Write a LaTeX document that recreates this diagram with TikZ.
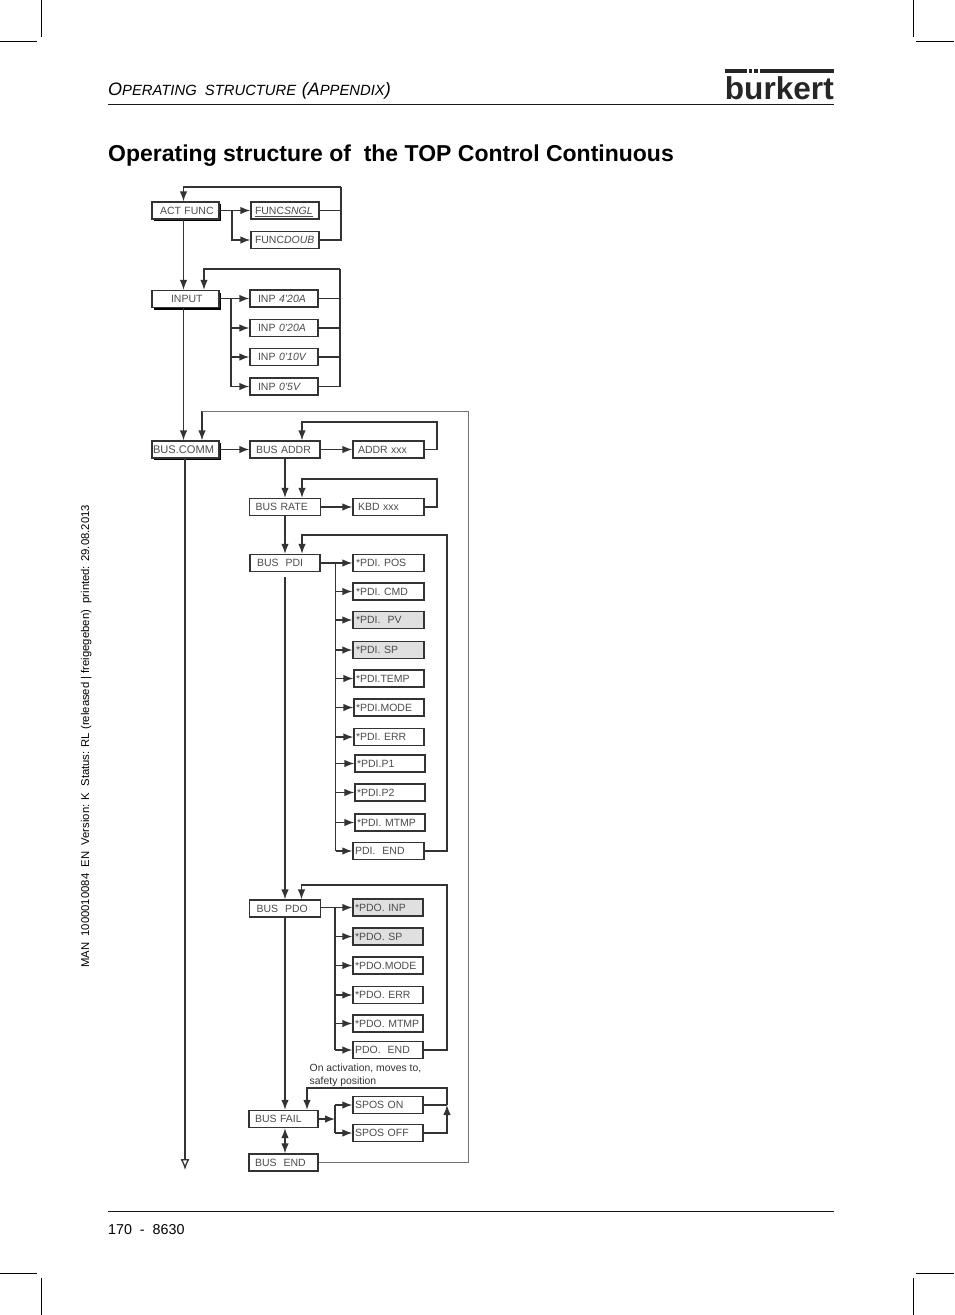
\documentclass[tikz,border=0pt]{standalone}
\usepackage{fontspec}
\setmainfont{Liberation Sans}
\usepackage{xcolor}
\usepackage{tikz}
\usetikzlibrary{arrows.meta, shadows, calc}
\definecolor{inkDark}{gray}{0.2}
\definecolor{inkText}{gray}{0.3}
\tikzset{
    menuBox/.style={draw=inkDark, line width=1.3pt, fill=white, text=inkText, inner xsep=0pt, inner ysep=0pt, text width=70pt, minimum height=17pt, text height=7.4pt, text depth=0pt, align=left, font=\fontsize{10.5}{10.5}\selectfont, execute at begin node=\hspace*{#1}},
    menuBox/.default=2pt,
    topBox/.style={menuBox=#1, text width=67pt, general shadow={fill=black, shadow xshift=1.5pt, shadow yshift=-2pt}},
    topBox/.default=8pt,
    greyBox/.style={fill=black!12},
    flowLine/.style={draw=inkDark, line width=1.3pt},
    flowEdge/.style={flowLine, -{Latex[length=10pt, width=7.5pt]}},
    flowBoth/.style={flowLine, {Latex[length=10pt, width=7.5pt]}-{Latex[length=10pt, width=7.5pt]}},
    flowEnd/.style={flowLine, -{Latex[open, length=11pt, width=9pt, fill=white]}},
    outerLine/.style={draw=black!55, line width=0.9pt},
    cropMark/.style={draw=black, line width=0.7pt},
    pageRule/.style={draw=black!90, line width=0.9pt},
    logoBar/.style={fill=black!85, draw=none},
}
\newcommand{\chanBranch}[2]{
    \draw[flowEdge] (#1 |- #2.west) -- (#2.west);
}
\newcommand{\chanReturn}[2]{
    \draw[flowLine] (#1.east) -- (#1.east -| #2);
}
\newcommand{\smallCap}[2]{{\fontsize{18}{18}\selectfont #1}{\fontsize{14.8}{14.8}\selectfont #2}}

\begin{document}
\begin{tikzpicture}[x=1pt, y=-1pt]
    \useasboundingbox (0,0) rectangle (954,1315);

    % crop marks
    \coordinate (cropA) at (41,0);
    \coordinate (cropB) at (41,37);
    \coordinate (cropC) at (0,41);
    \coordinate (cropD) at (37,41);
    \coordinate (cropE) at (913,0);
    \coordinate (cropF) at (913,37);
    \coordinate (cropG) at (916,41);
    \coordinate (cropH) at (954,41);
    \coordinate (cropI) at (41,1278);
    \coordinate (cropJ) at (41,1315);
    \coordinate (cropK) at (0,1273);
    \coordinate (cropL) at (37,1273);
    \coordinate (cropM) at (913,1278);
    \coordinate (cropN) at (913,1315);
    \coordinate (cropO) at (916,1273);
    \coordinate (cropP) at (954,1273);
    \draw[cropMark] (cropA) -- (cropB) (cropC) -- (cropD) (cropE) -- (cropF) (cropG) -- (cropH);
    \draw[cropMark] (cropI) -- (cropJ) (cropK) -- (cropL) (cropM) -- (cropN) (cropO) -- (cropP);

    % page head
    \node[anchor=base west, inner sep=0pt, font=\itshape] (headText) at (108,95) {\smallCap{O}{PERATING \ STRUCTURE} \ \smallCap{(A}{PPENDIX}\smallCap{)}{}};
    \node[anchor=base east, inner sep=0pt, font=\bfseries\fontsize{31.6}{31.6}\selectfont, text=black!85] (logoText) at (834,99) {burkert};
    \fill[logoBar] (725,69) rectangle (747,73);
    \fill[logoBar] (748.5,69) rectangle (752,73);
    \fill[logoBar] (754,69) rectangle (758,73);
    \fill[logoBar] (760,69) rectangle (833.5,73);
    \coordinate (headL) at (108,104.5);
    \coordinate (headR) at (833.5,104.5);
    \draw[pageRule] (headL) -- (headR);
    \node[anchor=base west, inner sep=0pt, font=\bfseries\fontsize{23}{23}\selectfont] (titleText) at (108,161) {Operating structure of \ the TOP Control Continuous};

    % page foot
    \coordinate (footL) at (108,1211.5);
    \coordinate (footR) at (833.5,1211.5);
    \draw[pageRule] (footL) -- (footR);
    \node[anchor=base west, inner sep=0pt, font=\fontsize{14.3}{14.3}\selectfont] (pageText) at (108,1234) {170 \ - \ 8630};
    \node[anchor=base west, inner sep=0pt, rotate=90, font=\fontsize{11.3}{11.3}\selectfont] (sideText) at (89,968) {MAN \ 1000010084 \ EN \ Version: K \ Status: RL (released | freigegeben) \ printed: 29.08.2013};

    % act func
    \node[topBox] (actFunc) at (185.5,210.5) {ACT FUNC};
    \node[menuBox=4pt, text width=68pt] (funcSngl) at (285,210.5) {\underline{FUNC\textit{SNGL}}};
    \node[menuBox=4pt, text width=68pt] (funcDoub) at (285,240) {FUNC\textit{DOUB}};
    \coordinate (actBranch) at (232,210.5);
    \coordinate (actRight) at (341,187);
    \coordinate (actLeft) at (183.5,187);
    \draw[flowLine] (actFunc.east) -- (actBranch);
    \chanBranch{actBranch}{funcSngl}
    \draw[flowEdge] (actBranch) |- (funcDoub.west);
    \chanReturn{funcSngl}{actRight}
    \draw[flowLine] (funcDoub.east) -| (actRight);
    \draw[flowEdge] (actRight) -- (actLeft) -- (actLeft |- actFunc.north);

    % input
    \node[topBox=19pt] (input) at (185.5,299) {INPUT};
    \node[menuBox=8pt, text width=68pt] (inpA) at (284,298.5) {INP \textit{4'20A}};
    \node[menuBox=8pt, text width=68pt] (inpB) at (284,328) {INP \textit{0'20A}};
    \node[menuBox=8pt, text width=68pt] (inpC) at (284,357) {INP \textit{0'10V}};
    \node[menuBox=8pt, text width=68pt] (inpD) at (284,386.5) {INP \textit{0'5V}};
    \coordinate (inpBranch) at (231,298.5);
    \coordinate (inpRight) at (340,269);
    \coordinate (inpLeft) at (204,269);
    \draw[flowEdge] (actFunc.south -| actLeft) -- (input.north -| actLeft);
    \chanBranch{input.east}{inpA}
    \draw[flowLine] (inpBranch) -- (inpBranch |- inpD.west);
    \chanBranch{inpBranch}{inpB}
    \chanBranch{inpBranch}{inpC}
    \chanBranch{inpBranch}{inpD}
    \chanReturn{inpA}{inpRight}
    \chanReturn{inpB}{inpRight}
    \chanReturn{inpC}{inpRight}
    \draw[flowLine] (inpD.east) -| (inpRight);
    \draw[flowEdge] (inpRight) -- (inpLeft) -- (inpLeft |- input.north);

    % bus comm
    \node[topBox=1pt, font=\fontsize{11.1}{11.1}\selectfont] (busComm) at (185.5,449.5) {BUS.COMM};
    \node[menuBox=6pt] (busAddr) at (285,449.5) {BUS ADDR};
    \node[menuBox=5pt, text width=71pt] (addrVal) at (388.5,449.5) {ADDR xxx};
    \node[menuBox=6pt, text width=71pt] (busRate) at (285,507) {BUS RATE};
    \node[menuBox=5pt, text width=71pt] (kbdVal) at (388.5,507) {KBD xxx};
    \node[menuBox=7pt] (busPdi) at (285,563) {BUS \ PDI};
    \coordinate (commLeft) at (202,411);
    \coordinate (commRight) at (468,411);
    \coordinate (spineEnd) at (185,1170);
    \coordinate (addrTop) at (302,422);
    \coordinate (addrRight) at (437,422);
    \coordinate (rateTop) at (302,479);
    \coordinate (rateRight) at (437,479);
    \draw[flowEdge] (input.south -| actLeft) -- (busComm.north -| actLeft);
    \draw[flowEdge] (commLeft) -- (commLeft |- busComm.north);
    \draw[flowEdge] (busComm.east) -- (busAddr.west);
    \draw[flowEnd] (busComm.south -| spineEnd) -- (spineEnd);
    \draw[flowEdge] (busAddr.east) -- (addrVal.west);
    \draw[flowEdge] (busRate.east) -- (kbdVal.west);
    \draw[flowEdge] (busAddr.south) -- (busRate.north);
    \draw[flowEdge] (busRate.south) -- (busPdi.north);
    \draw[flowEdge] (addrVal.east) -| (addrRight) -- (addrTop) -- (addrTop |- busAddr.north);
    \draw[flowEdge] (kbdVal.east) -| (rateRight) -- (rateTop) -- (rateTop |- busRate.north);

    % bus pdi
    \node[menuBox=3pt, text width=71pt] (pdiPos) at (388.5,563) {*PDI. POS};
    \node[menuBox=3pt, text width=71pt] (pdiCmd) at (388.5,591.5) {*PDI. CMD};
    \node[menuBox=3pt, greyBox, text width=71pt] (pdiPv) at (388.5,620) {*PDI. \ PV};
    \node[menuBox=3pt, greyBox, text width=71pt] (pdiSp) at (388.5,650) {*PDI. SP};
    \node[menuBox] (pdiTemp) at (389,678.5) {*PDI.TEMP};
    \node[menuBox] (pdiMode) at (389,707.5) {*PDI.MODE};
    \node[menuBox] (pdiErr) at (389,737) {*PDI. ERR};
    \node[menuBox] (pdiOne) at (390,763.5) {*PDI.P1};
    \node[menuBox] (pdiTwo) at (390,792.5) {*PDI.P2};
    \node[menuBox] (pdiTmp) at (390,822.5) {*PDI. MTMP};
    \node[menuBox=2pt, text width=71pt] (pdiEnd) at (388.5,851) {PDI. \ END};
    \coordinate (pdiBranch) at (335.5,563);
    \coordinate (pdiTop) at (302,535);
    \coordinate (pdiRight) at (447,535);
    \chanBranch{busPdi.east}{pdiPos}
    \draw[flowLine] (pdiBranch) -- (pdiBranch |- pdiEnd.west);
    \foreach \boxName in {pdiCmd, pdiPv, pdiSp, pdiTemp, pdiMode, pdiErr, pdiOne, pdiTwo, pdiTmp, pdiEnd} {
        \chanBranch{pdiBranch}{\boxName}
    }
    \draw[flowEdge] (pdiEnd.east) -| (pdiRight) -- (pdiTop) -- (pdiTop |- busPdi.north);

    % bus pdo
    \node[menuBox=7pt, text width=71pt] (busPdo) at (285,908.5) {BUS \ PDO};
    \node[menuBox, greyBox] (pdoInp) at (388,907.5) {*PDO. INP};
    \node[menuBox, greyBox] (pdoSp) at (388,936.5) {*PDO. SP};
    \node[menuBox] (pdoMode) at (388,965.5) {*PDO.MODE};
    \node[menuBox] (pdoErr) at (388,995) {*PDO. ERR};
    \node[menuBox] (pdoTmp) at (388,1023.5) {*PDO. MTMP};
    \node[menuBox] (pdoEnd) at (388,1050) {PDO. \ END};
    \coordinate (pdoBranch) at (335,908);
    \coordinate (pdoTop) at (301.5,885);
    \coordinate (pdoRight) at (447,885);
    \draw[flowEdge, shorten <=5pt] (busPdi.south) -- (busPdo.north);
    \chanBranch{busPdo.east}{pdoInp}
    \draw[flowLine] (pdoBranch) -- (pdoBranch |- pdoEnd.west);
    \foreach \boxName in {pdoSp, pdoMode, pdoErr, pdoTmp, pdoEnd} {
        \chanBranch{pdoBranch}{\boxName}
    }
    \draw[flowEdge] (pdoEnd.east) -| (pdoRight) -- (pdoTop) -- (pdoTop |- busPdo.north);

    % bus fail
    \node[menuBox=6pt, text width=69pt] (busFail) at (283.5,1119) {BUS FAIL};
    \node[menuBox=6pt, text width=69pt] (busEnd) at (283.5,1162.5) {BUS \ END};
    \node[menuBox=2pt] (sposOn) at (388,1105) {SPOS ON};
    \node[menuBox=2pt] (sposOff) at (388,1133) {SPOS OFF};
    \node[anchor=north west, inner sep=0pt, align=left, font=\fontsize{10.4}{13}\selectfont, text=inkDark] (sposNote) at (309.5,1064) {On activation, moves to,\\safety position};
    \coordinate (failBranch) at (335,1119);
    \coordinate (failTop) at (307,1088);
    \coordinate (failRight) at (447,1088);
    \coordinate (failTip) at (447,1105);
    \draw[flowEdge] (busPdo.south) -- (busFail.north -| busPdo.south);
    \draw[flowBoth] (busFail.south -| busPdo.south) -- (busEnd.north -| busPdo.south);
    \draw[flowEdge] (busFail.east) -- (failBranch);
    \draw[flowLine] (failBranch |- sposOn.west) -- (failBranch |- sposOff.west);
    \chanBranch{failBranch}{sposOn}
    \chanBranch{failBranch}{sposOff}
    \chanReturn{sposOn}{failRight}
    \draw[flowEdge] (sposOff.east) -| (failTip);
    \draw[flowEdge] (failTip) -- (failRight) -- (failTop) -- (failTop |- busFail.north);
    \draw[outerLine] (busEnd.east) -| (commRight) -- (commLeft);

\end{tikzpicture}
\end{document}
